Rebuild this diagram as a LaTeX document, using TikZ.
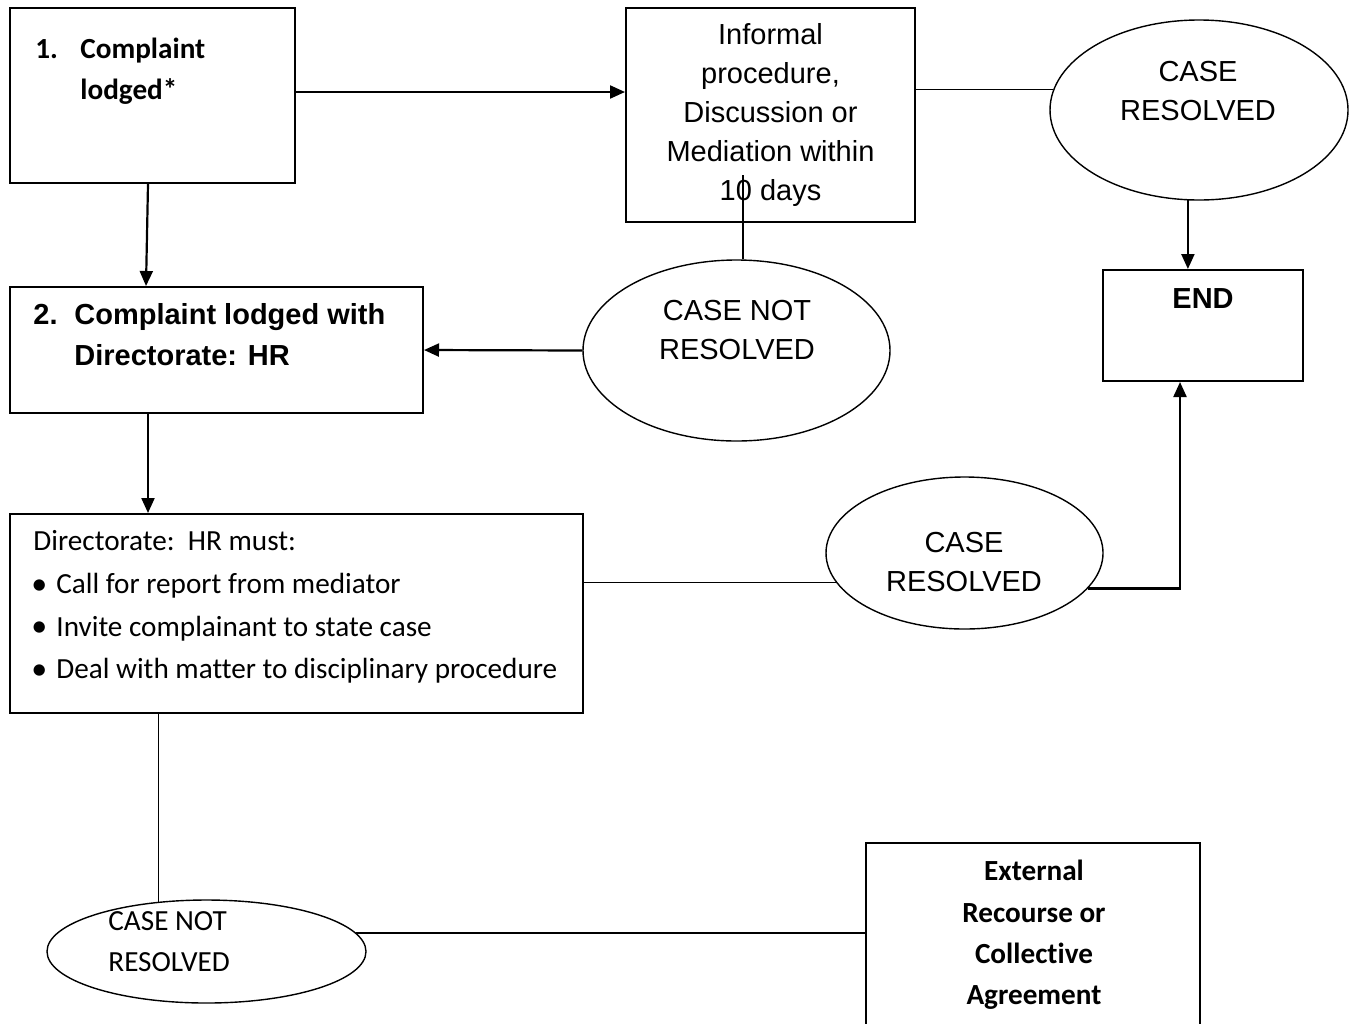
\documentclass[tikz,border=0pt]{standalone}
\usepackage{fontspec}
\setmainfont{Carlito}[Ligatures=NoCommon]
\newfontfamily\arialfont{Liberation Sans}
\usetikzlibrary{calc}
\usetikzlibrary{arrows.meta}
\usetikzlibrary{shapes.geometric}
\newcommand{\hrbullet}{\makebox[11.5pt][l]{\hspace*{-1pt}\raisebox{-0.4pt}{\fontsize{16}{16}\selectfont\textbullet}}}

\begin{document}
\begin{tikzpicture}[x=0.5pt, y=-0.5pt]
\tikzstyle{box}=[draw, line width=1pt, inner sep=0pt]
\tikzstyle{oval}=[draw, ellipse, line width=0.7pt, inner sep=0pt]
\tikzstyle{arial}=[font=\arialfont\fontsize{14.5}{19.5}\selectfont, align=center, 
inner sep=0pt]
\tikzstyle{arialbold}=[font=\arialfont\bfseries\fontsize{14.5}{20.5}\selectfont, 
align=center, inner sep=0pt]
\tikzstyle{calib}=[font=\fontsize{14.6}{21.3}\selectfont, align=left, inner sep=0pt]
\tikzstyle{calibbold}=[font=\bfseries\fontsize{14.6}{20.7}\selectfont, align=center, 
inner sep=0pt]
\tikzstyle{arrow}=[line width=1.1pt, -{Triangle[length=7.5pt,width=6.5pt]}]
\tikzstyle{link}=[line width=0.75pt]
	\useasboundingbox (0,0) rectangle (1352,1023);

	% first step
	\node [box, minimum width = 142.5pt, minimum height = 87.5pt] (C1) at 
	(152.5,95.5) {};
	\node [calibbold, align=left, anchor=west] (C1txt) at (35,71.5) 
	{\makebox[22.5pt][l]{1.}Complaint\\\hspace*{22.5pt}lodged*};
	\node [box, arial, minimum width = 144.5pt, minimum height = 107pt] (Inf) at 
	(770.5,115) {Informal\\procedure,\\Discussion or\\Mediation within\\10 days};
	\node [oval, minimum width = 149pt, minimum height = 90pt] (R1) at 
	(1199,110) {};
	\node [arial] (R1txt) at (1198,91.5) {CASE\\RESOLVED};
	\node [box, minimum width = 100pt, minimum height = 55.5pt] (END) at 
	(1203,325.5) {};
	\node [arialbold] (ENDtxt) at (1203,299) {END};
	
	% second step
	\node [box, minimum width = 206.5pt, minimum height = 63pt] (C2) at 
	(216.5,350) {};
	\node [arialbold, align=left, anchor=west] (C2txt) at (33,334.5) 
	{\makebox[20.5pt][l]{2.}Complaint lodged with\\\hspace*{20.5pt}Directorate: HR};
	\node [oval, minimum width = 153.5pt, minimum height = 90.5pt] (N1) at 
	(736.5,350.5) {};
	\node [arial] (N1txt) at (737,330.5) {CASE NOT\\RESOLVED};
	
	% third step
	\node [box, minimum width = 286.5pt, minimum height = 99.5pt] (C3) at 
	(296.5,613.5) {};
	\node [calib, anchor=west] (C3txt) at (33,607) {Directorate:\ \ HR must:\\
		\hrbullet Call for report from mediator\\
		\hrbullet Invite complainant to state case\\
		\hrbullet Deal with matter to disciplinary procedure};
	\node [oval, minimum width = 138.5pt, minimum height = 76pt] (R2) at 
	(964.5,553) {};
	\node [arial] (R2txt) at (964,562.5) {CASE\\RESOLVED};
	
	% last step
	\node [oval, minimum width = 159.5pt, minimum height = 51.5pt] (N2) at 
	(206.5,951.5) {};
	\node [calib, font=\fontsize{14.6}{20.5}\selectfont, anchor=west] (N2txt) at 
	(108,941.5) {CASE NOT\\RESOLVED};
	\node [box, minimum width = 167pt, minimum height = 108.5pt] (Ext) at 
	(1033,951.5) {};
	\node [calibbold] (Exttxt) at (1034,935) 
	{External\\Recourse or\\Collective\\Agreement};
	
	% arrows
	\draw [arrow] ($(C1.east)+(0,-3.5)$) -- ($(C1.east -| Inf.west)+(0,-3.5)$);
	\draw [arrow] ($(C1.south west)+(139,0)$) -- ($(C2.north west)+(137,0)$);
	\draw [arrow] (R1.263) -- (R1.263 |- END.north);
	\draw [arrow] (N1.west) -- (C2.east);
	\draw [arrow] ($(C2.south west)+(139,0)$) -- ($(C3.north west)+(139,0)$);
	\draw [arrow] (R2.344) -| ($(END.south)+(-23,0)$);
	
	% lines
	\coordinate (InfIn) at ($(Inf.south)!0.22!(Inf.north)$);
	\draw [link] (Inf.east |- R1.172) -- (R1.172);
	\draw [link] (N1.86) -- (N1.86 |- InfIn);
	\draw [link] (C3.east |- R2.193) -- (R2.193);
	\draw [link] (N2.134) -- (N2.134 |- C3.south);
	\draw [link] (N2.7) -- (N2.7 -| Ext.west);
\end{tikzpicture}
\end{document}
